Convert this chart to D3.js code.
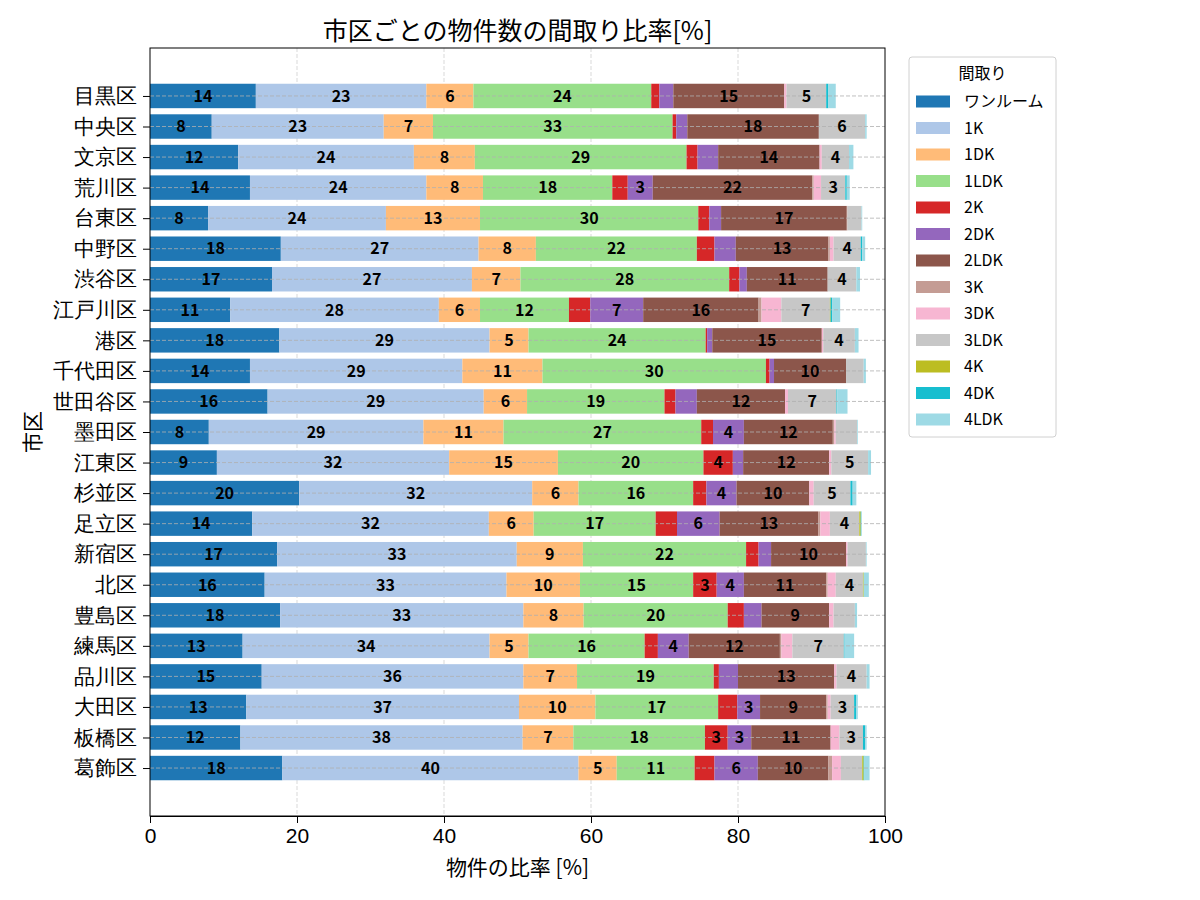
<!DOCTYPE html>
<html>
<head>
<meta charset="utf-8">
<script src="https://cdn.jsdelivr.net/npm/d3@7"></script>
<style>
  body { margin: 0; background: #fff; }
  svg { font-family: "Noto Sans CJK JP", "Noto Sans", sans-serif; }
</style>
</head>
<body>
<svg id="chart" width="1200" height="900"></svg>
<script>
// 市区 (上から順)
const districts = ['目黒区', '中央区', '文京区', '荒川区', '台東区', '中野区', '渋谷区', '江戸川区', '港区', '千代田区',
  '世田谷区', '墨田区', '江東区', '杉並区', '足立区', '新宿区', '北区', '豊島区', '練馬区', '品川区', '大田区', '板橋区', '葛飾区'];

const layouts = ['ワンルーム', '1K', '1DK', '1LDK', '2K', '2DK', '2LDK', '3K', '3DK', '3LDK', '4K', '4DK', '4LDK'];
const colors = ['#1f77b4', '#aec7e8', '#ffbb78', '#98df8a', '#d62728', '#9467bd', '#8c564b',
  '#c49c94', '#f7b6d2', '#c7c7c7', '#bcbd22', '#17becf', '#9edae5'];

// 間取りごとの比率 [%]
const oneRoom = [14.4, 8.4, 12.0, 13.6, 7.9, 17.8, 16.6, 10.9, 17.6, 13.6, 16.0, 8.0, 9.1, 20.3, 13.9, 17.3, 15.6, 17.7, 12.6, 15.2, 13.1, 12.3, 18.0];
const k1 = [23.2, 23.4, 23.9, 24.0, 24.2, 26.9, 27.2, 28.4, 28.6, 28.9, 29.4, 29.2, 31.6, 31.7, 32.2, 32.6, 32.9, 33.1, 33.6, 35.6, 37.1, 38.4, 40.3];
const dk1 = [6.4, 6.7, 8.3, 7.7, 12.8, 7.8, 6.6, 5.6, 5.3, 10.9, 5.9, 10.9, 14.8, 6.3, 6.1, 9.0, 10.0, 8.2, 5.3, 7.3, 10.4, 6.9, 5.2];
const ldk1 = [24.2, 32.6, 28.8, 17.6, 29.7, 21.9, 28.4, 12.1, 24.1, 30.4, 18.7, 26.9, 19.8, 15.6, 16.6, 22.2, 15.4, 19.6, 15.8, 18.6, 16.7, 17.9, 10.6];
const k2 = [1.1, 0.5, 1.5, 2.1, 1.5, 2.4, 1.4, 2.9, 0.2, 0.5, 1.5, 1.6, 4.0, 1.8, 2.9, 1.7, 3.2, 2.2, 1.8, 0.7, 2.6, 3.1, 2.7];
const dk2 = [1.9, 1.5, 2.8, 3.4, 1.6, 2.9, 1.0, 7.2, 0.7, 0.6, 2.9, 4.2, 1.4, 4.1, 5.8, 1.7, 3.7, 2.4, 4.2, 2.6, 3.1, 3.2, 5.9];
const ldk2 = [15.1, 17.9, 13.8, 21.7, 17.1, 12.6, 11.0, 15.7, 14.9, 9.8, 12.0, 12.1, 11.7, 9.9, 13.4, 10.2, 11.2, 9.2, 12.4, 13.1, 9.0, 10.8, 9.6];
const k3 = [0, 0, 0, 0.2, 0.1, 0.2, 0, 0.4, 0, 0, 0, 0.2, 0, 0, 0.3, 0, 0.2, 0, 0.2, 0, 0.2, 0, 0.5];
const dk3 = [0.3, 0, 0.3, 1.0, 0, 0.5, 0, 2.7, 0.2, 0, 0.4, 0.2, 0.3, 0.6, 1.3, 0.2, 1.1, 0.6, 1.5, 0.3, 0.4, 1.2, 1.2];
const ldk3 = [5.4, 6.3, 3.7, 3.3, 1.9, 3.7, 3.9, 6.6, 4.3, 2.4, 6.6, 2.9, 5.0, 5.0, 4.0, 2.5, 3.7, 2.9, 7.0, 4.1, 3.2, 3.2, 2.9];
const k4 = [0, 0, 0, 0, 0, 0, 0, 0.1, 0, 0, 0, 0, 0, 0, 0.2, 0, 0.1, 0, 0, 0, 0, 0, 0.2];
const dk4 = [0.3, 0, 0, 0.2, 0, 0.2, 0, 0.2, 0, 0, 0.1, 0, 0, 0.3, 0.05, 0, 0, 0, 0.1, 0, 0.3, 0.3, 0.1];
const ldk4 = [1.0, 0.2, 0.6, 0.4, 0.1, 0.4, 0.5, 1.1, 0.5, 0.3, 1.4, 0.1, 0.4, 0.5, 0.1, 0.1, 0.7, 0.3, 1.3, 0.4, 0.2, 0.2, 0.7];

const xTicks = [0, 20, 40, 60, 80, 100];

const series = [oneRoom, k1, dk1, ldk1, k2, dk2, ldk2, k3, dk3, ldk3, k4, dk4, ldk4];
const table = districts.map((d, i) => {
  const row = { district: d };
  layouts.forEach((l, j) => { row[l] = series[j][i]; });
  return row;
});

const margin = { top: 48, right: 315, bottom: 84, left: 150 };
const width = 1200;
const height = 900;
const svg = d3.select('#chart');

const x = d3.scaleLinear()
  .domain([0, 100])
  .range([margin.left, width - margin.right]);

const y = d3.scalePoint()
  .domain(districts)
  .range([margin.top, height - margin.bottom])
  .padding(1.57);

const barH = y.step() * 0.8;
const color = d3.scaleOrdinal(layouts, colors);
const stacked = d3.stack().keys(layouts)(table);

// vertical grid (behind bars)
svg.append('g')
  .selectAll('line')
  .data(xTicks.slice(1, -1))
  .join('line')
  .attr('x1', d => x(d))
  .attr('x2', d => x(d))
  .attr('y1', margin.top)
  .attr('y2', height - margin.bottom)
  .attr('stroke', '#cfcfcf')
  .attr('stroke-width', 0.8)
  .attr('stroke-dasharray', '4,2');

// bars
svg.append('g')
  .selectAll('g')
  .data(stacked)
  .join('g')
  .attr('fill', d => color(d.key))
  .selectAll('rect')
  .data(d => d)
  .join('rect')
  .attr('x', d => x(d[0]))
  .attr('y', d => y(d.data.district) - barH / 2)
  .attr('width', d => x(d[1]) - x(d[0]))
  .attr('height', barH);

// horizontal grid (over bars)
svg.append('g')
  .selectAll('line')
  .data(districts)
  .join('line')
  .attr('x1', margin.left)
  .attr('x2', width - margin.right)
  .attr('y1', d => y(d))
  .attr('y2', d => y(d))
  .attr('stroke', '#b0b0b0')
  .attr('stroke-width', 0.8)
  .attr('stroke-dasharray', '4,2');

// segment labels (3%以上)
const labels = [];
stacked.forEach(s => s.forEach(d => {
  const v = d[1] - d[0];
  if (v >= 3) labels.push({ x: (d[0] + d[1]) / 2, district: d.data.district, v });
}));
svg.append('g')
  .attr('text-anchor', 'middle')
  .attr('font-size', 16)
  .attr('font-weight', 'bold')
  .selectAll('text')
  .data(labels)
  .join('text')
  .attr('x', d => x(d.x))
  .attr('y', d => y(d.district))
  .attr('dy', '0.36em')
  .text(d => Math.round(d.v));

// axes
svg.append('g')
  .attr('transform', `translate(0,${height - margin.bottom})`)
  .call(d3.axisBottom(x).tickValues(xTicks).tickSize(7).tickPadding(5))
  .call(g => g.selectAll('text').attr('font-size', 21).attr('font-family', null).attr('fill', '#000'))
  .call(g => g.selectAll('line, path').attr('stroke', '#000'));

svg.append('g')
  .attr('transform', `translate(${margin.left},0)`)
  .call(d3.axisLeft(y).tickSize(7).tickPadding(6))
  .call(g => g.select('.domain').remove())
  .call(g => g.selectAll('text').attr('font-size', 21).attr('font-family', null).attr('fill', '#000'))
  .call(g => g.selectAll('line').attr('stroke', '#000'));

// frame
svg.append('rect')
  .attr('x', margin.left)
  .attr('y', margin.top)
  .attr('width', width - margin.left - margin.right)
  .attr('height', height - margin.top - margin.bottom)
  .attr('fill', 'none')
  .attr('stroke', '#000')
  .attr('stroke-width', 1);

// titles
svg.append('text')
  .attr('x', (margin.left + width - margin.right) / 2)
  .attr('y', 40)
  .attr('text-anchor', 'middle')
  .attr('font-size', 25)
  .text('市区ごとの物件数の間取り比率[%]');

svg.append('text')
  .attr('x', (margin.left + width - margin.right) / 2)
  .attr('y', 875)
  .attr('text-anchor', 'middle')
  .attr('font-size', 21)
  .text('物件の比率 [%]');

svg.append('text')
  .attr('transform', `translate(40,${(margin.top + height - margin.bottom) / 2}) rotate(-90)`)
  .attr('text-anchor', 'middle')
  .attr('font-size', 21)
  .text('市区');

// legend
const legend = svg.append('g').attr('transform', 'translate(909,57)');
legend.append('rect')
  .attr('width', 147)
  .attr('height', 380)
  .attr('rx', 3)
  .attr('fill', '#fff')
  .attr('stroke', '#d0d0d0');
legend.append('text')
  .attr('x', 73.5)
  .attr('y', 22)
  .attr('text-anchor', 'middle')
  .attr('font-size', 16)
  .text('間取り');
const item = legend.selectAll('g.item')
  .data(layouts)
  .join('g')
  .attr('class', 'item')
  .attr('transform', (d, i) => `translate(0,${44.5 + i * 26.5})`);
item.append('rect')
  .attr('x', 7)
  .attr('y', -6)
  .attr('width', 34)
  .attr('height', 12)
  .attr('fill', d => color(d));
item.append('text')
  .attr('x', 55)
  .attr('dy', '0.35em')
  .attr('font-size', 16)
  .text(d => d);
</script>
</body>
</html>
